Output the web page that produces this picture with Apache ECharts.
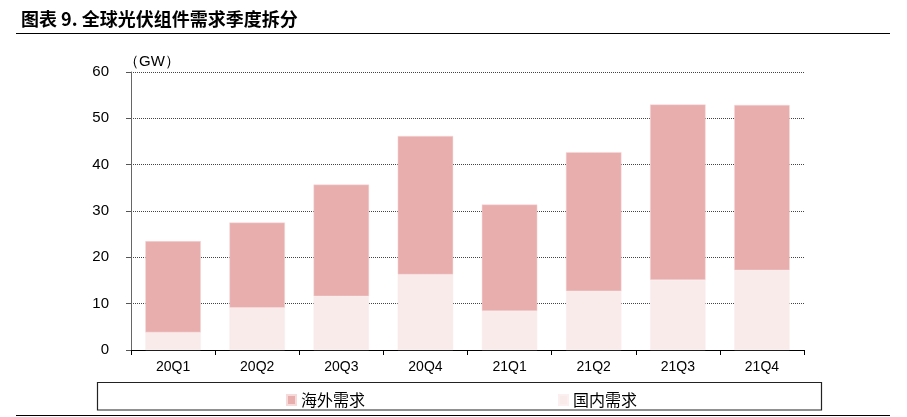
<!DOCTYPE html>
<html><head><meta charset="utf-8">
<script src="https://cdn.jsdelivr.net/npm/echarts@6/dist/echarts.min.js"></script>
<style>html,body{margin:0;padding:0;background:#fff}#c{width:907px;height:417px}</style>
</head><body><div id="c"></div>
<script>
const categories = ['20Q1','20Q2','20Q3','20Q4','21Q1','21Q2','21Q3','21Q4'];
const domestic = [3.8, 9.1, 11.6, 16.3, 8.4, 12.7, 15.1, 17.2];
const overseas = [19.7, 18.4, 24.1, 29.9, 23.0, 30.0, 37.9, 35.7];
const yTicks = [0, 10, 20, 30, 40, 50, 60];
const titleText = '图表 9. 全球光伏组件需求季度拆分';
const unitText = '（GW）';
const seriesNames = ['海外需求', '国内需求'];

const chart = echarts.init(document.getElementById('c'), null, {renderer: 'canvas'});
chart.setOption({
  animation: false,
  backgroundColor: '#fff',
  grid: {left: 131, right: 103, top: 72, bottom: 67},
  graphic: [
    {type: 'text', left: 21, top: 10, style: {text: titleText, font: 'bold 18px "Noto Sans CJK SC", sans-serif', fill: '#000'}},
    {type: 'line', shape: {x1: 16, y1: 33.5, x2: 890, y2: 33.5}, style: {stroke: '#000', lineWidth: 1.2}},
    {type: 'text', left: 124, top: 54, style: {text: unitText, font: '15px "Liberation Sans", Arial, sans-serif', fill: '#000'}},
    {type: 'rect', shape: {x: 97.5, y: 382.5, width: 724, height: 27.5}, style: {fill: 'none', stroke: '#222', lineWidth: 1.2}},
    {type: 'line', shape: {x1: 16, y1: 415.5, x2: 890, y2: 415.5}, style: {stroke: '#000', lineWidth: 1.2}}
  ],
  legend: {
    data: seriesNames,
    top: 387, left: 281,
    itemWidth: 9, itemHeight: 10, itemGap: 193,
    icon: 'rect',
    textStyle: {fontSize: 16, color: '#000', fontFamily: '"Noto Sans CJK SC", serif'}
  },
  xAxis: {
    type: 'category', data: categories,
    axisLine: {lineStyle: {color: '#000', width: 1}},
    axisTick: {show: true, length: 5, lineStyle: {color: '#000'}},
    axisLabel: {color: '#000', fontSize: 14, fontFamily: '"Liberation Sans", Arial, sans-serif', margin: 10}
  },
  yAxis: {
    type: 'value', min: yTicks[0], max: yTicks[yTicks.length - 1], interval: 10,
    axisLine: {show: true, lineStyle: {color: '#666', width: 1}},
    axisTick: {show: true, length: 5, lineStyle: {color: '#555'}},
    axisLabel: {color: '#000', fontSize: 15, fontFamily: '"Liberation Sans", Arial, sans-serif', margin: 22},
    splitLine: {show: true, lineStyle: {color: '#444', type: [1, 1], width: 1}}
  },
  series: [
    {name: seriesNames[1], type: 'bar', stack: 't', data: domestic, barWidth: '66%',
     itemStyle: {color: '#FAEBEB', borderColor: '#FBEFEF', borderWidth: 0.5}},
    {name: seriesNames[0], type: 'bar', stack: 't', data: overseas, barWidth: '66%',
     itemStyle: {color: '#E8ADAD', borderColor: '#F6DADA', borderWidth: 0.5}}
  ]
});
</script></body></html>
